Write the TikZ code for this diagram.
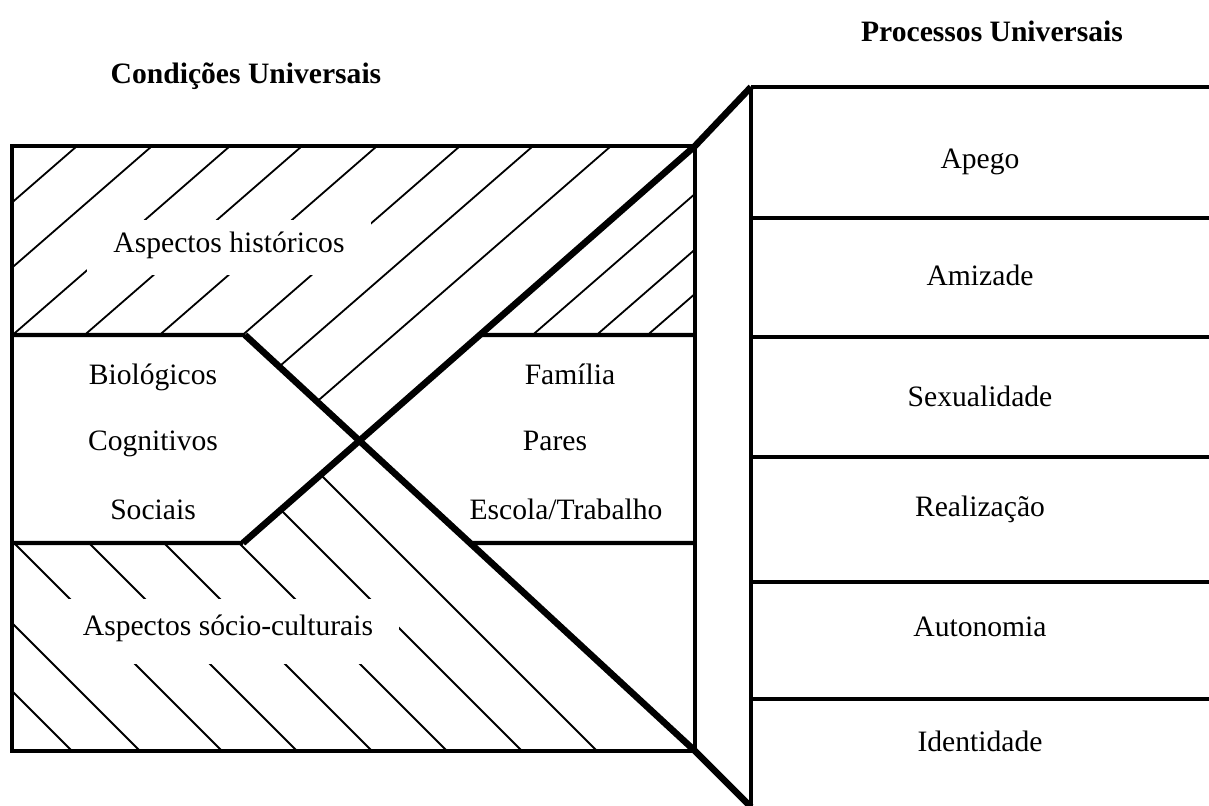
\documentclass[tikz,border=0pt]{standalone}
\usepackage{fontspec}
\setmainfont{Liberation Serif}
\usetikzlibrary{intersections}

\begin{document}
\begin{tikzpicture}[x=0.5pt, y=-0.5pt,
    every node/.style={font=\fontsize{14.8}{18}\selectfont, inner sep=0pt,
                       text height=0.7em, text depth=0.22em},
    frame/.style={line width=2.2pt},
    cross/.style={line width=3.3pt, line join=round},
    hatch/.style={line width=0.9pt},
    gap/.style={fill=white, inner xsep=13pt},
    title/.style={font=\fontsize{14.8}{18}\selectfont\bfseries}]
\useasboundingbox (0,0) rectangle (1209,806);

% corners of the left block
\coordinate (tl) at (12,146);
\coordinate (tr) at (695,146);
\coordinate (bl) at (12,751);
\coordinate (br) at (695,751);
\coordinate (ml) at (12,335);
\coordinate (mr) at (695,335);
\coordinate (nl) at (12,543);
\coordinate (nr) at (695,543);
\coordinate (n1) at (245,335);
\coordinate (n2) at (243,543);
% corners of the right block
\coordinate (rt) at (751,87);
\coordinate (rb) at (751,807);

\path[name path=d1] (n1) -- (br);
\path[name path=d2] (n2) -- (tr);
\path[name path=up] (ml) -- (mr);
\path[name path=dn] (nl) -- (nr);
\path[name intersections={of=d1 and d2, by=xc}];
\path[name intersections={of=d2 and up, by=u1}];
\path[name intersections={of=d1 and dn, by=l1}];

% hatching, upper part
\begin{scope}
\clip (tl) -- (tr) -- (mr) -- (u1) -- (xc) -- (n1) -- (ml) -- cycle;
\foreach \s in {-140,-65,13,85,160,243,316,394,533,597,648}
  \draw[hatch] ({\s-150},465) -- ({\s+400},-13);
\end{scope}

% hatching, lower part
\begin{scope}
\clip (nl) -- (n2) -- (xc) -- (l1) -- (br) -- (bl) -- cycle;
\foreach \b in {72,140,222,297,372,447,522,597}
  \draw[hatch] ({\b-330},421) -- ({\b+20},771);
\end{scope}

\node[gap, minimum height=27.5pt] (hist) at (229,248) {Aspectos históricos};
\node[gap, minimum height=32.5pt] (soc) at (228,631) {Aspectos sócio-culturais};

\node (bio) at (153,380) {Biológicos};
\node (cog) at (153,446) {Cognitivos};
\node (soci) at (153,515) {Sociais};
\node (fam) at (570,380) {Família};
\node (par) at (555,446) {Pares};
\node (esc) at (566,515) {Escola/Trabalho};

\node (apego) at (980,164) {Apego};
\node (amiz) at (980,281) {Amizade};
\node (sex) at (980,402) {Sexualidade};
\node (real) at (980,512) {Realização};
\node (auto) at (980,632) {Autonomia};
\node (ident) at (980,747) {Identidade};

\node[title] (cond) at (246,79) {Condições Universais};
\node[title] (proc) at (992,37) {Processos Universais};

% frame
\draw[frame] (tl) rectangle (br);
\draw[frame] (ml) -- (n1) (u1) -- (mr);
\draw[frame] (nl) -- (n2) (l1) -- (nr);
\draw[cross] (n1) -- (br) -- (rb);
\draw[cross] (n2) -- (tr) -- (rt);

% right block
\draw[frame] (rt) -- (1215,87);
\draw[frame] (rt) -- (751,812);
\foreach \y in {218,337,457,582,699}
  \draw[frame] (751,\y) -- (1215,\y);
\end{tikzpicture}
\end{document}
